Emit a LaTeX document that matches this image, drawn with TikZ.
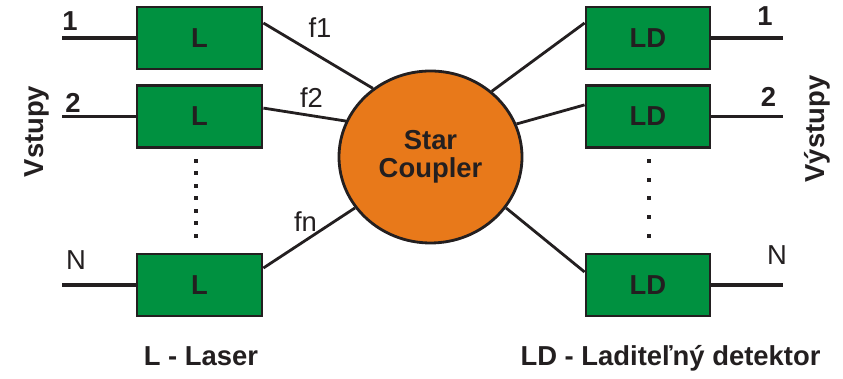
\documentclass[tikz,border=0pt]{standalone}
\usepackage{fontspec}
\setmainfont{Liberation Sans}
\usepackage{xcolor}
\usetikzlibrary{shapes.geometric, positioning, calc}

\definecolor{boxgreen}{RGB}{0,145,64}
\definecolor{starorange}{RGB}{232,121,26}
\definecolor{ink}{RGB}{35,31,32}

\tikzset{
  unit/.style={draw=ink, line width=2pt, fill=boxgreen, minimum height=1.55cm, inner sep=0pt,
    font=\bfseries\fontsize{19.5}{22}\selectfont, text=ink},
  fiber/.style={draw=ink, line width=2pt},
  port/.style={draw=ink, line width=2.8pt},
  lbl/.style={font=\fontsize{19.5}{22}\selectfont, text=ink},
  blbl/.style={font=\bfseries\fontsize{19.5}{22}\selectfont, text=ink},
}

\begin{document}
\begin{tikzpicture}
\useasboundingbox (0,0) rectangle (21.075,9.475);

% Star coupler in the middle
\node[ellipse, draw=ink, line width=2pt, fill=starorange, minimum width=4.575cm, minimum height=4.3cm,
  align=center, blbl] (SC) at (10.7625,5.55) {Star\\[-2pt]Coupler};

% Lasers (left)
\node[unit, minimum width=3.125cm] (L1) at (4.9875,8.525) {L};
\node[unit, minimum width=3.125cm] (L2) at (4.9875,6.5625) {L};
\node[unit, minimum width=3.125cm] (LN) at (4.9875,2.35) {L};

% Detectors (right)
\node[unit, minimum width=3.1cm] (D1) at (16.2,8.525) {LD};
\node[unit, minimum width=3.1cm] (D2) at (16.2,6.5625) {LD};
\node[unit, minimum width=3.1cm] (DN) at (16.2,2.35) {LD};

% Input and output ports
\coordinate (in1) at (1.55,8.525);
\coordinate (in2) at (1.55,6.5625);
\coordinate (inN) at (1.55,2.35);
\coordinate (out1) at (19.575,8.525);
\coordinate (out2) at (19.575,6.5625);
\coordinate (outN) at (19.575,2.35);
\draw[port] (in1) -- (L1.west);
\draw[port] (in2) -- (L2.west);
\draw[port] (inN) -- (LN.west);
\draw[port] (D1.east) -- (out1);
\draw[port] (D2.east) -- (out2);
\draw[port] (DN.east) -- (outN);

% Fibers to and from the coupler
\draw[fiber] ([yshift=0.375cm]L1.east) -- (SC.130);
\draw[fiber] ([yshift=0.21cm]L2.east) -- (SC.157);
\draw[fiber] ([yshift=0.425cm]LN.east) -- (SC.214);
\draw[fiber] ([yshift=0.375cm]D1.west) -- (SC.47);
\draw[fiber] ([yshift=0.29cm]D2.west) -- (SC.21);
\draw[fiber] ([yshift=0.325cm]DN.west) -- (SC.326);

% Wavelength labels
\node[lbl] (f1) at (8.0,8.775) {f1};
\node[lbl] (f2) at (7.7875,7.025) {f2};
\node[lbl] (fn) at (7.6375,3.925) {fn};

% Port numbers
\node[blbl] (n1) at (1.75,8.95) {1};
\node[blbl] (n2) at (1.825,6.9) {2};
\node[lbl] (nN) at (1.9,2.975) {N};
\node[blbl] (m1) at (19.125,9.075) {1};
\node[blbl] (m2) at (19.2125,7.05) {2};
\node[lbl] (mN) at (19.425,3.1) {N};

% Dots between the rows
\foreach \y in {161,173.5,186,198.5,211,223.5,236}
  \fill[ink] ($(4.9,{(379-\y)/40})+(-0.05,-0.05)$) rectangle ++(0.1,0.1);
\foreach \y in {161,179.75,198.5,217.25,236}
  \fill[ink] ($(16.225,{(379-\y)/40})+(-0.05,-0.05)$) rectangle ++(0.1,0.1);

% Side titles
\node[blbl, rotate=90] (vst) at (0.925,6.1875) {Vstupy};
\node[blbl, rotate=90] (vyst) at (20.425,6.25) {Výstupy};

% Legend
\node[blbl, anchor=base] (legL) at (5.025,0.325) {L - Laser};
\node[blbl, anchor=base] (legD) at (16.7625,0.325) {LD - Laditeľný detektor};
\end{tikzpicture}
\end{document}
